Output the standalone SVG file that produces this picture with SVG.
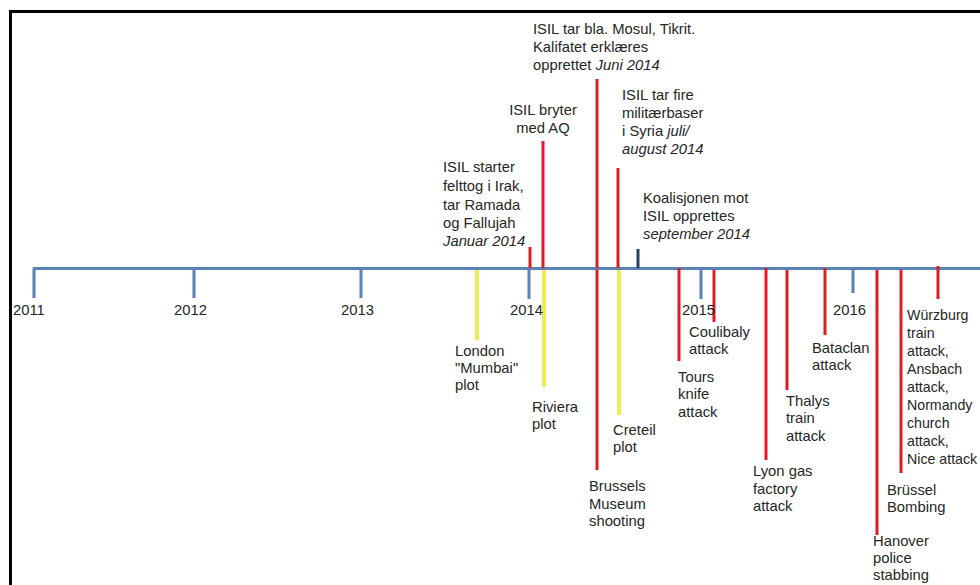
<svg xmlns="http://www.w3.org/2000/svg" width="980" height="585" viewBox="0 0 980 585">
<style>
text{font-family:"Liberation Sans",Arial,sans-serif;font-size:14.8px;fill:#262626}
.i{font-style:italic}
.sm{font-size:14.2px}
.red{stroke:#dd1c24;stroke-width:3;fill:none}
.yel{stroke:#eeea55;stroke-width:4;fill:none}
.blue{stroke:#5b82b5;stroke-width:3;fill:none}
.dblue{stroke:#22406e;stroke-width:3;fill:none}
</style>
<rect width="980" height="585" fill="#fff"/>
<path d="M10.5,585 V11.5 H980" fill="none" stroke="#000" stroke-width="3"/>
<g id="connectors">
<path class="blue" d="M33,268.5 H980 M34,268 V298 M194,268 V298 M361,268 V298 M529,268 V299 M701,268 V299 M853,268 V293"/>
<path class="red" d="M530,247 V268 M543,141 V268 M597,79 V268 M618,168 V268"/>
<path class="dblue" d="M638,249 V268"/>
<path class="yel" d="M477,270 V340 M544,270 V387 M619,270 V415"/>
<path class="red" d="M597,270 V470 M679,268 V361 M714,270 V322 M766,268 V460 M787,270 V390 M825,268 V335 M877,270 V535 M901,270 V473 M938,266 V299"/>
</g>
<g id="years">
<text x="13" y="315">2011</text>
<text x="174" y="315">2012</text>
<text x="341" y="315">2013</text>
<text x="510" y="315">2014</text>
<text x="682" y="315">2015</text>
<text x="833" y="315">2016</text>
</g>
<g id="ev-starter">
<text x="443" y="172">ISIL starter<tspan x="443" dy="19">felttog i Irak,</tspan><tspan x="443" dy="19">tar Ramada</tspan><tspan x="443" dy="18">og Fallujah</tspan><tspan x="443" dy="18" class="i">Januar 2014</tspan></text>
</g>
<g id="ev-bryter">
<text x="543" y="115" text-anchor="middle">ISIL bryter<tspan x="543" dy="18">med AQ</tspan></text>
</g>
<g id="ev-mosul">
<text x="533" y="34">ISIL tar bla. Mosul, Tikrit.<tspan x="533" dy="18">Kalifatet erklæres</tspan><tspan x="533" dy="18">opprettet </tspan><tspan class="i">Juni 2014</tspan></text>
</g>
<g id="ev-fire">
<text x="622" y="100">ISIL tar fire<tspan x="622" dy="18">militærbaser</tspan><tspan x="622" dy="18">i Syria </tspan><tspan class="i">juli/</tspan><tspan x="622" dy="18" class="i">august 2014</tspan></text>
</g>
<g id="ev-koalisjon">
<text x="643" y="203">Koalisjonen mot<tspan x="643" dy="18">ISIL opprettes</tspan><tspan x="643" dy="18" class="i">september 2014</tspan></text>
</g>
<g id="ev-london">
<text x="455" y="356">London<tspan x="455" dy="17">"Mumbai"</tspan><tspan x="455" dy="17">plot</tspan></text>
</g>
<g id="ev-riviera">
<text x="532" y="412">Riviera<tspan x="532" dy="17">plot</tspan></text>
</g>
<g id="ev-creteil">
<text x="613" y="435">Creteil<tspan x="613" dy="17">plot</tspan></text>
</g>
<g id="ev-brussels-museum">
<text x="589" y="491">Brussels<tspan x="589" dy="18">Museum</tspan><tspan x="589" dy="17">shooting</tspan></text>
</g>
<g id="ev-tours">
<text x="678" y="382">Tours<tspan x="678" dy="17">knife</tspan><tspan x="678" dy="18">attack</tspan></text>
</g>
<g id="ev-coulibaly">
<text x="689" y="337">Coulibaly<tspan x="689" dy="17">attack</tspan></text>
</g>
<g id="ev-lyon">
<text x="753" y="476">Lyon gas<tspan x="753" dy="18">factory</tspan><tspan x="753" dy="17">attack</tspan></text>
</g>
<g id="ev-thalys">
<text x="786" y="406">Thalys<tspan x="786" dy="17">train</tspan><tspan x="786" dy="18">attack</tspan></text>
</g>
<g id="ev-bataclan">
<text x="812" y="353">Bataclan<tspan x="812" dy="17">attack</tspan></text>
</g>
<g id="ev-hanover">
<text x="873" y="546">Hanover<tspan x="873" dy="17">police</tspan><tspan x="873" dy="17">stabbing</tspan></text>
</g>
<g id="ev-brussel-bombing">
<text x="887" y="495">Brüssel<tspan x="887" dy="17">Bombing</tspan></text>
</g>
<g id="ev-wurzburg">
<text class="sm" x="907" y="320">Würzburg<tspan x="907" dy="18">train</tspan><tspan x="907" dy="18">attack,</tspan><tspan x="907" dy="18">Ansbach</tspan><tspan x="907" dy="18">attack,</tspan><tspan x="907" dy="18">Normandy</tspan><tspan x="907" dy="18">church</tspan><tspan x="907" dy="18">attack,</tspan><tspan x="907" dy="18">Nice attack</tspan></text>
</g>
</svg>
